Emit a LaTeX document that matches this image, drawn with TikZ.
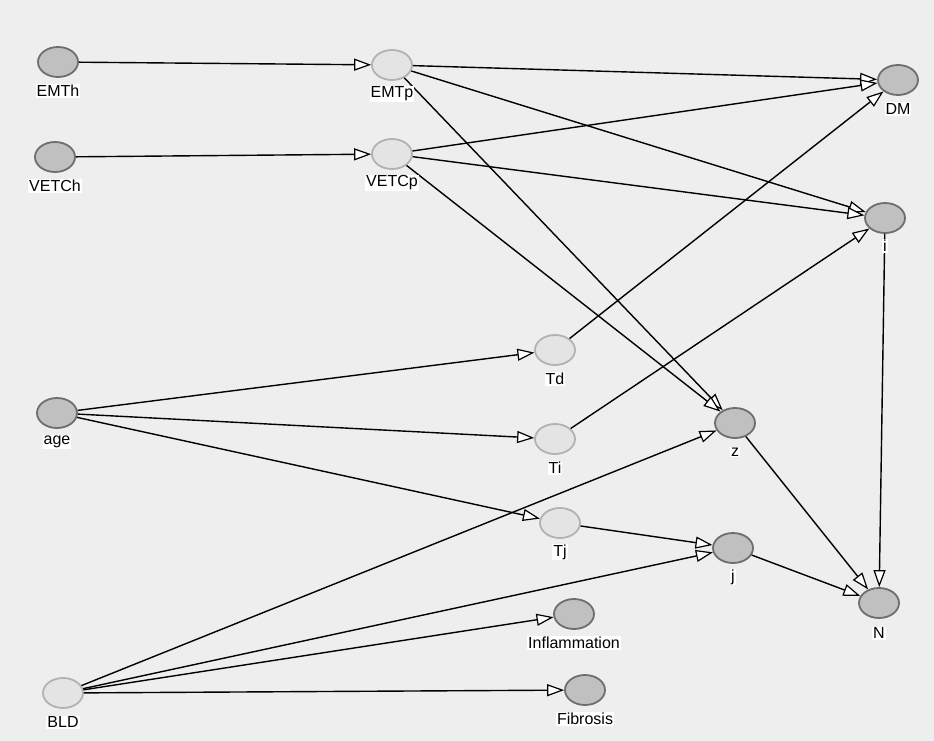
\documentclass[tikz,border=0pt]{standalone}
\usepackage{fontspec}
\setmainfont{Liberation Sans}
\usetikzlibrary{shapes.geometric,arrows.meta}
\definecolor{bg}{HTML}{EEEEEE}
\definecolor{darkfill}{HTML}{C0C0C0}
\definecolor{darkline}{HTML}{6E6E6E}
\definecolor{lightfill}{HTML}{E4E4E4}
\definecolor{lightline}{HTML}{B2B2B2}
\tikzset{
  dnode/.style={ellipse,draw=darkline,fill=darkfill,line width=1.8pt,minimum width=40pt,minimum height=30pt,inner sep=0pt},
  lnode/.style={ellipse,draw=lightline,fill=lightfill,line width=1.8pt,minimum width=40pt,minimum height=30pt,inner sep=0pt},
  lab/.style={fill=white,inner sep=1pt,font=\fontsize{16}{18}\selectfont},
  edge/.style={draw=black,line width=1.4pt,-{Triangle[open,fill=white,length=17pt,width=12pt,line width=1.2pt]}}
}
\begin{document}
\begin{tikzpicture}[x=1pt,y=-1pt]
\fill[bg] (0,0) rectangle (934,741);
\useasboundingbox (0,0) rectangle (934,741);
% nodes
\node[dnode] (EMTh) at (58,62) {};
\node[lnode] (EMTp) at (392,65) {};
\node[dnode] (VETCh) at (55,157) {};
\node[lnode] (VETCp) at (392,154) {};
\node[dnode] (DM) at (898,80) {};
\node[dnode] (i) at (885,218) {};
\node[lnode] (Td) at (555,350) {};
\node[lnode] (Ti) at (555,439) {};
\node[lnode] (Tj) at (560,523) {};
\node[dnode] (age) at (57,413) {};
\node[dnode] (z) at (735,423) {};
\node[dnode] (j) at (733,548) {};
\node[dnode] (N) at (879,603) {};
\node[dnode] (Infl) at (574,614) {};
\node[lnode] (BLD) at (63,693) {};
\node[dnode] (Fib) at (585,690) {};
% edges
\draw[edge] (EMTh) -- (EMTp);
\draw[edge] (VETCh) -- (VETCp);
\draw[edge] (EMTp) -- (DM);
\draw[edge] (EMTp) -- (i);
\draw[edge] (EMTp) -- (z);
\draw[edge] (VETCp) -- (DM);
\draw[edge] (VETCp) -- (i);
\draw[edge] (VETCp) -- (z);
\draw[edge] (age) -- (Td);
\draw[edge] (age) -- (Ti);
\draw[edge] (age) -- (Tj);
\draw[edge] (Td) -- (DM);
\draw[edge] (Ti) -- (i);
\draw[edge] (Tj) -- (j);
\draw[edge] (i) -- (N);
\draw[edge] (z) -- (N);
\draw[edge] (j) -- (N);
\draw[edge] (BLD) -- (z);
\draw[edge] (BLD) -- (j);
\draw[edge] (BLD) -- (Infl);
\draw[edge] (BLD) -- (Fib);
% labels
\node[lab] (EMThl) at (58,91) {EMTh};
\node[lab] (EMTpl) at (392,94) {EMTp};
\node[lab] (VETChl) at (55,186) {VETCh};
\node[lab] (VETCpl) at (392,183) {VETCp};
\node[lab] (DMl) at (898,109) {DM};
\node[lab] (il) at (885,246) {i};
\node[lab] (Tdl) at (555,379) {Td};
\node[lab] (Til) at (555,468) {Ti};
\node[lab] (Tjl) at (560,552) {Tj};
\node[lab] (agel) at (57,442) {age};
\node[lab] (zl) at (735,452) {z};
\node[lab] (jl) at (733,577) {j};
\node[lab] (Nl) at (879,633) {N};
\node[lab] (Infll) at (574,643) {Inflammation};
\node[lab] (BLDl) at (63,722) {BLD};
\node[lab] (Fibl) at (585,719) {Fibrosis};
\end{tikzpicture}
\end{document}
